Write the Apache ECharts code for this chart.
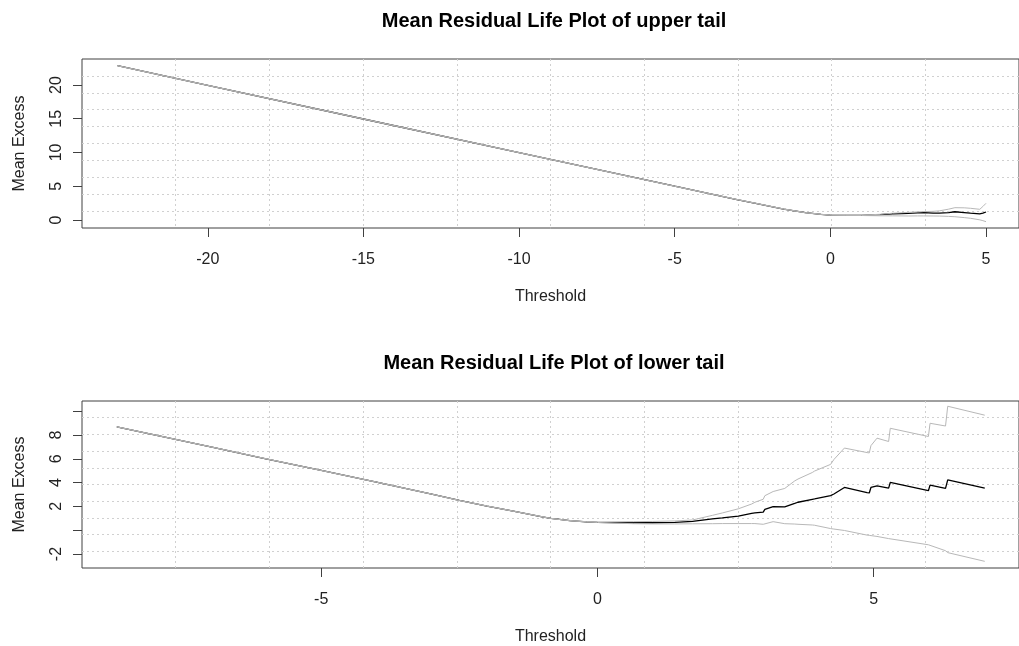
<!DOCTYPE html>
<html>
<head>
<meta charset="utf-8">
<script src="https://cdn.jsdelivr.net/npm/echarts@6/dist/echarts.min.js"></script>
<style>
html,body{margin:0;padding:0;background:#fff;}
#chart{width:1019px;height:646px;}
</style>
</head>
<body>
<div id="chart"></div>
<script>
// ---- Upper tail (top panel) ----
const topThreshold = [-22.9, -20, -15, -10, -5, -3, -2.4, -1.5, -0.8, -0.3, 0, 0.5, 1.0, 1.6, 2.0, 2.3, 2.5, 2.8, 3.0, 3.3, 3.5, 3.8, 4.0, 4.3, 4.5, 4.8, 4.9, 5.0];
const topMean   = [22.86, 19.94, 14.96, 9.98, 5.0, 3.03, 2.47, 1.62, 1.08, 0.84, 0.72, 0.69, 0.69, 0.78, 0.92, 0.96, 0.99, 1.05, 1.08, 1.02, 1.0, 1.1, 1.22, 1.1, 1.0, 0.89, 1.0, 1.18];
const topCIHigh = [22.86, 19.94, 14.96, 9.98, 5.0, 3.03, 2.47, 1.62, 1.08, 0.84, 0.72, 0.70, 0.72, 0.84, 1.0, 1.07, 1.12, 1.2, 1.24, 1.28, 1.35, 1.6, 1.82, 1.8, 1.73, 1.58, 2.0, 2.47];
const topCILow  = [22.86, 19.94, 14.96, 9.98, 5.0, 3.03, 2.47, 1.62, 1.08, 0.84, 0.72, 0.68, 0.66, 0.62, 0.61, 0.6, 0.59, 0.6, 0.6, 0.59, 0.58, 0.53, 0.48, 0.35, 0.25, 0.02, -0.1, -0.25];
const topXTicks = [-20, -15, -10, -5, 0, 5];
const topYTicks = [0, 5, 10, 15, 20];
const topYLabels = [0, 5, 10, 15, 20];

// ---- Lower tail (bottom panel) ----
const bottomThreshold = [-8.7, -7, -6, -5, -4, -3, -2.5, -2, -1.5, -1.0, -0.84, -0.5, -0.2, 0, 0.3, 0.65, 1.0, 1.4, 1.72, 2.08, 2.26, 2.55, 2.79, 2.85, 3.0, 3.03, 3.18, 3.21, 3.39, 3.57, 3.63, 3.89, 3.93, 4.22, 4.28, 4.47, 4.88, 4.92, 4.95, 5.06, 5.27, 5.30, 5.99, 6.02, 6.30, 6.34, 7.01];
const bottomMean   = [8.68, 7.0, 6.0, 5.02, 4.04, 3.03, 2.5, 2.03, 1.58, 1.13, 0.99, 0.8, 0.7, 0.66, 0.64, 0.63, 0.63, 0.66, 0.74, 0.95, 1.03, 1.19, 1.42, 1.45, 1.52, 1.75, 1.99, 1.98, 1.96, 2.25, 2.35, 2.6, 2.63, 2.9, 3.04, 3.59, 3.16, 3.13, 3.59, 3.73, 3.54, 4.01, 3.32, 3.79, 3.51, 4.23, 3.54];
const bottomCIHigh = [8.68, 7.0, 6.0, 5.02, 4.04, 3.03, 2.5, 2.03, 1.58, 1.13, 0.99, 0.81, 0.72, 0.70, 0.71, 0.72, 0.74, 0.78, 0.86, 1.25, 1.45, 1.8, 2.2, 2.35, 2.6, 2.9, 3.25, 3.32, 3.51, 4.14, 4.3, 4.85, 4.97, 5.53, 5.94, 6.9, 6.52, 6.49, 7.1, 7.73, 7.45, 8.56, 7.87, 8.98, 8.75, 10.41, 9.66];
const bottomCILow  = [8.68, 7.0, 6.0, 5.02, 4.04, 3.03, 2.5, 2.03, 1.58, 1.13, 0.99, 0.8, 0.7, 0.65, 0.60, 0.55, 0.53, 0.53, 0.54, 0.55, 0.56, 0.56, 0.56, 0.56, 0.5, 0.55, 0.72, 0.7, 0.55, 0.52, 0.5, 0.44, 0.42, 0.14, 0.1, -0.02, -0.41, -0.43, -0.45, -0.52, -0.7, -0.75, -1.22, -1.3, -1.72, -1.88, -2.61];
const bottomXTicks = [-5, 0, 5];
const bottomYTicks = [-2, 0, 2, 4, 6, 8, 10];
const bottomYLabels = [-2, 2, 4, 6, 8];

const titles = ['Mean Residual Life Plot of upper tail', 'Mean Residual Life Plot of lower tail'];
const xName = 'Threshold';
const yName = 'Mean Excess';

const FONT = '"Liberation Sans", Arial, sans-serif';
const AXIS_COLOR = '#404040';
const TEXT_COLOR = '#222';
const GRID_COLOR = '#d0d0d0';
const CI_COLOR = '#b8b8b8';

function pairs(xs, ys) { return xs.map((x, i) => [x, ys[i]]); }

const grids = [
  {left: 82, top: 59, width: 944, height: 169},
  {left: 82, top: 401, width: 944, height: 169}
];

function mainX(gi, min, max, ticks) {
  return {
    type: 'value', gridIndex: gi, min: min, max: max, position: 'bottom',
    axisLine: {show: false, onZero: false},
    axisTick: {show: true, inside: false, customValues: ticks, length: 9, lineStyle: {color: AXIS_COLOR, width: 1}},
    axisLabel: {show: true, customValues: ticks, fontSize: 16, fontFamily: FONT, color: TEXT_COLOR, margin: 24},
    splitLine: {show: false},
    name: xName, nameLocation: 'middle', nameGap: 61,
    nameTextStyle: {fontSize: 16, fontFamily: FONT, color: TEXT_COLOR}
  };
}
function mainY(gi, min, max, ticks, labels) {
  return {
    type: 'value', gridIndex: gi, min: min, max: max, position: 'left',
    axisLine: {show: false, onZero: false},
    axisTick: {show: true, inside: false, customValues: ticks, length: 9, lineStyle: {color: AXIS_COLOR, width: 1}},
    axisLabel: {show: true, customValues: labels, rotate: 90, fontSize: 16, fontFamily: FONT, color: TEXT_COLOR, margin: 17},
    splitLine: {show: false},
    name: yName, nameLocation: 'middle', nameGap: 54,
    nameTextStyle: {fontSize: 16, fontFamily: FONT, color: TEXT_COLOR}
  };
}
function gridAxis(gi) {
  return {
    type: 'value', gridIndex: gi, min: 0, max: 10, interval: 1,
    axisLine: {show: false, onZero: false}, axisTick: {show: false}, axisLabel: {show: false},
    splitLine: {show: true, showMinLine: false, showMaxLine: false, lineStyle: {color: GRID_COLOR, type: [2, 3], width: 1}}
  };
}

function lineSeries(xi, yi, data, color, width, z) {
  return {
    type: 'line', xAxisIndex: xi, yAxisIndex: yi, data: data,
    showSymbol: false, symbol: 'none', smooth: false,
    lineStyle: {color: color, width: width}, z: z, silent: true
  };
}

const option = {
  animation: false,
  backgroundColor: '#fff',
  grid: grids.map(g => Object.assign({show: true, borderColor: AXIS_COLOR, borderWidth: 1, backgroundColor: 'transparent'}, g)),
  xAxis: [
    mainX(0, -24.04, 6.06, topXTicks),
    gridAxis(0),
    mainX(1, -9.33, 7.63, bottomXTicks),
    gridAxis(1)
  ],
  yAxis: [
    mainY(0, -1.19, 23.85, topYTicks, topYLabels),
    gridAxis(0),
    mainY(1, -3.17, 10.85, bottomYTicks, bottomYLabels),
    gridAxis(1)
  ],
  series: [
    lineSeries(0, 0, pairs(topThreshold, topMean), '#000', 1.3, 3),
    lineSeries(0, 0, pairs(topThreshold, topCIHigh), CI_COLOR, 1, 4),
    lineSeries(0, 0, pairs(topThreshold, topCILow), CI_COLOR, 1, 4),
    lineSeries(2, 2, pairs(bottomThreshold, bottomMean), '#000', 1.3, 3),
    lineSeries(2, 2, pairs(bottomThreshold, bottomCIHigh), CI_COLOR, 1, 4),
    lineSeries(2, 2, pairs(bottomThreshold, bottomCILow), CI_COLOR, 1, 4)
  ],
  graphic: [
    {type: 'text', x: 554, y: 21, style: {text: titles[0], textAlign: 'center', textVerticalAlign: 'middle', font: 'bold 20px ' + FONT, fill: '#000'}},
    {type: 'text', x: 554, y: 363, style: {text: titles[1], textAlign: 'center', textVerticalAlign: 'middle', font: 'bold 20px ' + FONT, fill: '#000'}}
  ]
};

const chart = echarts.init(document.getElementById('chart'), null, {renderer: 'canvas'});
chart.setOption(option);
</script>
</body>
</html>
